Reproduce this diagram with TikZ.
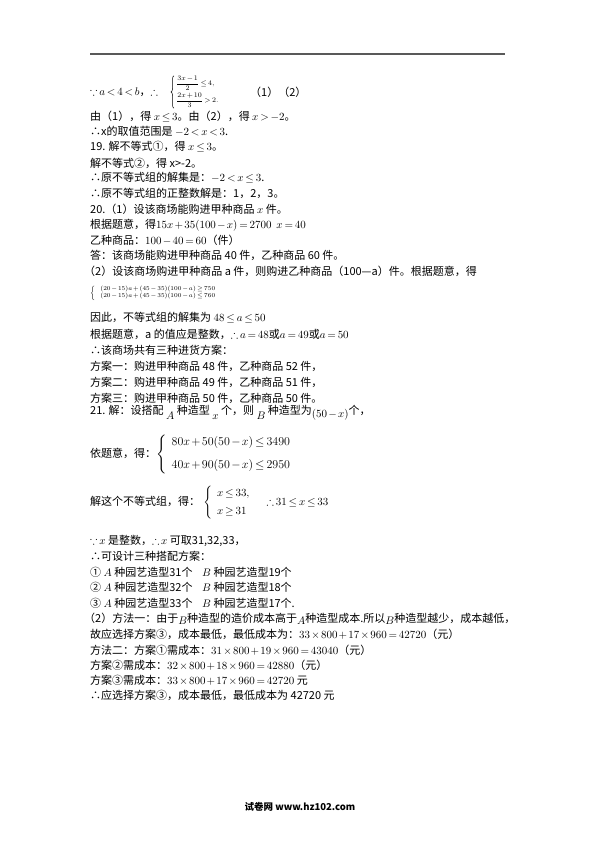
\documentclass[tikz,border=0pt]{standalone}
\usepackage{amsmath,amssymb}
\usepackage{fontspec}
\setmainfont{Noto Sans CJK SC}
\usetikzlibrary{decorations.pathreplacing}
\newcommand{\lowr}[1]{\raisebox{-5pt}{#1}}
\medmuskip=2mu plus 1mu
\thickmuskip=3mu plus 1mu
\begin{document}
\begin{tikzpicture}[x=1pt,y=-1pt,
  txtline/.style={anchor=west, inner sep=0pt, font=\fontsize{11}{13}\selectfont},
  sysbrace/.style={decorate, decoration={brace, amplitude=3pt}, line width=0.5pt},
  footnode/.style={anchor=center, inner sep=0pt, font=\fontsize{9.5}{11}\selectfont\bfseries}]
\useasboundingbox (0,0) rectangle (595,842);

% Head rule
\draw[gray!70!black, line width=1.5pt] (90,54) -- (505,54);

% Lines of the answer, from the top
\node[txtline] (l1) at (90,92) {$\because a<4<b$，$\therefore$};
\node[txtline] (l1s) at (176,92) {\fontsize{7}{8}\selectfont$\begin{array}{@{}l}\dfrac{3x-1}{2}\le 4,\\[5pt]\dfrac{2x+10}{3}>2.\end{array}$};
\draw[sysbrace] ([xshift=-2pt]l1s.south west) -- ([xshift=-2pt]l1s.north west);
\node[txtline] (l1n) at (250,92) {（1）（2）};
\node[txtline] (l2) at (90,117) {由（1），得 $x\le3$。由（2），得 $x>-2$。};
\node[txtline] (l3) at (90,131) {∴x的取值范围是 $-2<x<3$.};
\node[txtline] (l4) at (90,147) {19. 解不等式①，得 $x\le3$。};
\node[txtline] (l5) at (90,163) {解不等式②，得 x>-2。};
\node[txtline] (l6) at (90,178) {∴原不等式组的解集是：$-2<x\le3$.};
\node[txtline] (l7) at (90,193) {∴原不等式组的正整数解是：1，2，3。};
\node[txtline] (l8) at (90,209) {20.（1）设该商场能购进甲种商品 $x$ 件。};
\node[txtline] (l9) at (90,225) {根据题意，得$15x+35(100-x)=2700\ \ x=40$};
\node[txtline] (l10) at (90,240) {乙种商品：$100-40=60$（件）};
\node[txtline] (l11) at (90,255) {答：该商场能购进甲种商品 40 件，乙种商品 60 件。};
\node[txtline] (l12) at (84,271) {（2）设该商场购进甲种商品 a 件，则购进乙种商品（100—a）件。根据题意，得};
\node[txtline] (l13) at (90,293) {\fontsize{6}{7}\selectfont$\left\{\begin{array}{l}(20-15)a+(45-35)(100-a)\ge750\\(20-15)a+(45-35)(100-a)\le760\end{array}\right.$};
\node[txtline] (l14) at (90,318) {因此，不等式组的解集为 $48\le a\le50$};
\node[txtline] (l15) at (90,334) {根据题意，a 的值应是整数，$\therefore a=48$或$a=49$或$a=50$};
\node[txtline] (l16) at (90,350) {∴该商场共有三种进货方案：};
\node[txtline] (l17) at (90,366) {方案一：购进甲种商品 48 件，乙种商品 52 件，};
\node[txtline] (l18) at (90,382) {方案二：购进甲种商品 49 件，乙种商品 51 件，};
\node[txtline] (l19) at (90,398) {方案三：购进甲种商品 50 件，乙种商品 50 件。};
\node[txtline] (l20) at (90,413) {21. 解：设搭配 \lowr{$A$} 种造型 \lowr{$x$} 个，则 \lowr{$B$} 种造型为\raisebox{-3pt}{$(50-x)$}个，};
\node[txtline] (l21) at (90,454) {依题意，得：{\fontsize{13}{15}\selectfont$\left\{\begin{array}{l}80x+50(50-x)\le3490\\[8pt]40x+90(50-x)\le2950\end{array}\right.$}};
\node[txtline] (l22) at (90,503) {解这个不等式组，得：\;$\left\{\begin{array}{l}x\le33,\\[5pt]x\ge31\end{array}\right.$\quad$\therefore 31\le x\le33$};
\node[txtline] (l23) at (90,541) {$\because x$ 是整数，$\therefore x$ 可取31,32,33，};
\node[txtline] (l24) at (90,556) {∴可设计三种搭配方案：};
\node[txtline] (l25) at (90,572) {① $A$ 种园艺造型31个};
\node[txtline] (l25b) at (202,572) {$B$ 种园艺造型19个};
\node[txtline] (l26) at (90,587) {② $A$ 种园艺造型32个};
\node[txtline] (l26b) at (202,587) {$B$ 种园艺造型18个};
\node[txtline] (l27) at (90,603) {③ $A$ 种园艺造型33个};
\node[txtline] (l27b) at (202,603) {$B$ 种园艺造型17个.};
\node[txtline] (l28) at (84,619) {（2）方法一：由于\raisebox{-2pt}{$B$}种造型的造价成本高于\raisebox{-2pt}{$A$}种造型成本.所以\raisebox{-2pt}{$B$}种造型越少，成本越低，};
\node[txtline] (l29) at (90,634) {故应选择方案③，成本最低，最低成本为：$33\times800+17\times960=42720$（元）};
\node[txtline] (l30) at (90,650) {方法二：方案①需成本：$31\times800+19\times960=43040$（元）};
\node[txtline] (l31) at (90,665) {方案②需成本：$32\times800+18\times960=42880$（元）};
\node[txtline] (l32) at (90,680) {方案③需成本：$33\times800+17\times960=42720$ 元};
\node[txtline] (l33) at (90,695) {∴应选择方案③，成本最低，最低成本为 42720 元};

% Footer
\node[footnode] (foot) at (300,807) {试卷网 www.hz102.com};
\end{tikzpicture}
\end{document}
